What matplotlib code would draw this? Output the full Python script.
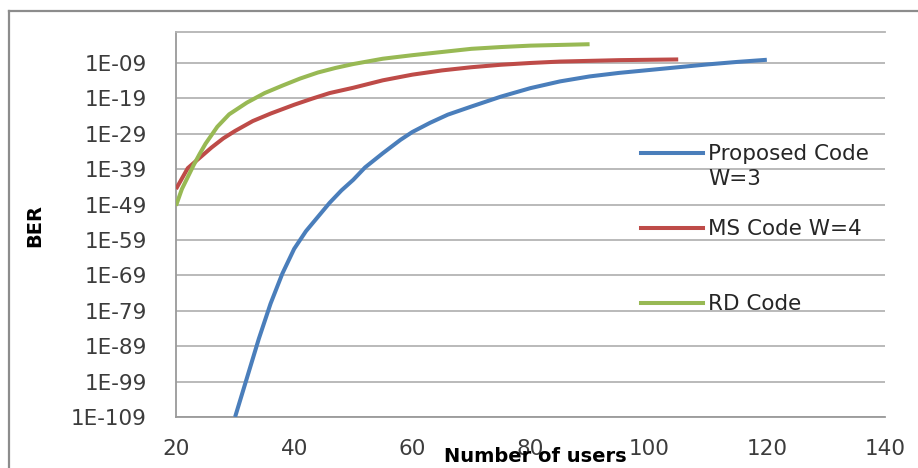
import numpy as np
import matplotlib
matplotlib.use("Agg")
import matplotlib.pyplot as plt
from matplotlib.lines import Line2D

# ---- data (BER given as log10 exponents) ----
users_prop = [30, 32, 34, 36, 38, 40, 42, 44, 46, 48, 50, 52, 55, 58, 60, 63, 66, 70, 75,
              80, 85, 90, 95, 100, 105, 110, 115, 120]
ber_exp_prop = [-109, -98, -87, -77, -68.5, -61.5, -56.5, -52.5, -48.5, -45, -42, -38.5,
                -34.5, -30.7, -28.5, -25.9, -23.6, -21.3, -18.5, -16.1, -14.2, -12.8,
                -11.8, -11.0, -10.2, -9.4, -8.7, -8.1]

users_ms = [20, 22, 24, 26, 28, 30, 33, 36, 40, 43, 46, 50, 55, 60, 65, 70, 75, 80, 85,
            90, 95, 100, 105]
ber_exp_ms = [-44.6, -38.7, -35.8, -32.9, -30.3, -28.2, -25.4, -23.3, -20.8, -19.1, -17.5,
              -16.0, -13.9, -12.3, -11.1, -10.2, -9.5, -9.0, -8.6, -8.4, -8.2, -8.1, -8.0]

users_rd = [20, 21, 22, 23, 24, 25, 27, 29, 32, 35, 38, 41, 44, 47, 50, 55, 60, 65, 70,
            75, 80, 85, 90]
ber_exp_rd = [-49.3, -44.6, -41.2, -37.8, -34.7, -31.8, -27.0, -23.5, -20.2, -17.5, -15.4,
              -13.4, -11.7, -10.4, -9.3, -7.8, -6.8, -5.9, -5.0, -4.5, -4.1, -3.9, -3.7]

labels = ["Proposed Code\nW=3", "MS Code W=4", "RD Code"]
colors = ["#4A7EBB", "#BE4B48", "#98B954"]

x_ticks = [20, 40, 60, 80, 100, 120, 140]
y_tick_exps = [-109, -99, -89, -79, -69, -59, -49, -39, -29, -19, -9]
y_tick_labels = ["1E-109", "1E-99", "1E-89", "1E-79", "1E-69", "1E-59",
                 "1E-49", "1E-39", "1E-29", "1E-19", "1E-09"]

FONT = "DejaVu Sans"
FS = 15.5
W, H = 918, 468

fig = plt.figure(figsize=(W / 100, H / 100), dpi=100)
fig.patch.set_facecolor("white")

# outer chart border
fig.add_artist(Line2D([9 / W, 9 / W], [0, 1 - 11 / H], color="#8c8c8c", lw=1.6))
fig.add_artist(Line2D([9 / W, 1], [1 - 11 / H, 1 - 11 / H], color="#8c8c8c", lw=1.6))

left, right, top, bottom = 176, 885, 32, 417
ax = fig.add_axes([left / W, 1 - bottom / H, (right - left) / W, (bottom - top) / H])

series = [(users_prop, ber_exp_prop), (users_ms, ber_exp_ms), (users_rd, ber_exp_rd)]
for (xs, es), c in zip(series, colors):
    ax.plot(xs, 10.0 ** np.array(es), color=c, lw=2.9, solid_capstyle="butt",
            solid_joinstyle="round", zorder=3)

ax.set_yscale("log")
ax.set_xlim(20, 140)
ax.set_ylim(1e-109, 10 ** -0.25)
ax.set_xticks(x_ticks)
ax.set_xticklabels([str(v) for v in x_ticks], fontsize=FS, family=FONT, color="#3c3c3c")
ax.set_yticks([10.0 ** e for e in y_tick_exps])
ax.set_yticklabels(y_tick_labels, fontsize=FS, family=FONT, color="#3c3c3c")
ax.yaxis.set_minor_locator(matplotlib.ticker.NullLocator())
ax.tick_params(axis="both", length=0)
ax.tick_params(axis="y", pad=21)
ax.tick_params(axis="x", pad=16)

ax.grid(axis="y", which="major", color="#b4b4b4", lw=1.3)
ax.set_axisbelow(True)
for s in ["left", "bottom", "top"]:
    ax.spines[s].set_color("#9a9a9a")
    ax.spines[s].set_linewidth(1.3)
ax.spines["top"].set_color("#b4b4b4")
ax.spines["right"].set_visible(False)

fig.text(535 / W, 1 - 456 / H, "Number of users", ha="center", va="center",
         fontsize=14, family=FONT, fontweight="bold", color="#000000")
fig.text(35 / W, 1 - 225 / H, "BER", ha="center", va="center", rotation=90,
         fontsize=14, family=FONT, fontweight="bold", color="#000000")

# legend (manual, Excel-style, no frame)
leg_y = [153, 228, 303]
for lab, c, yy in zip(labels, colors, leg_y):
    fig.add_artist(Line2D([641 / W, 703 / W], [1 - yy / H, 1 - yy / H], color=c, lw=2.9))
    fig.text(708 / W, 1 - (yy - 9) / H, lab, ha="left", va="top", fontsize=FS,
             family=FONT, color="#262626", linespacing=1.3)

fig.savefig("out.png", dpi=100)
